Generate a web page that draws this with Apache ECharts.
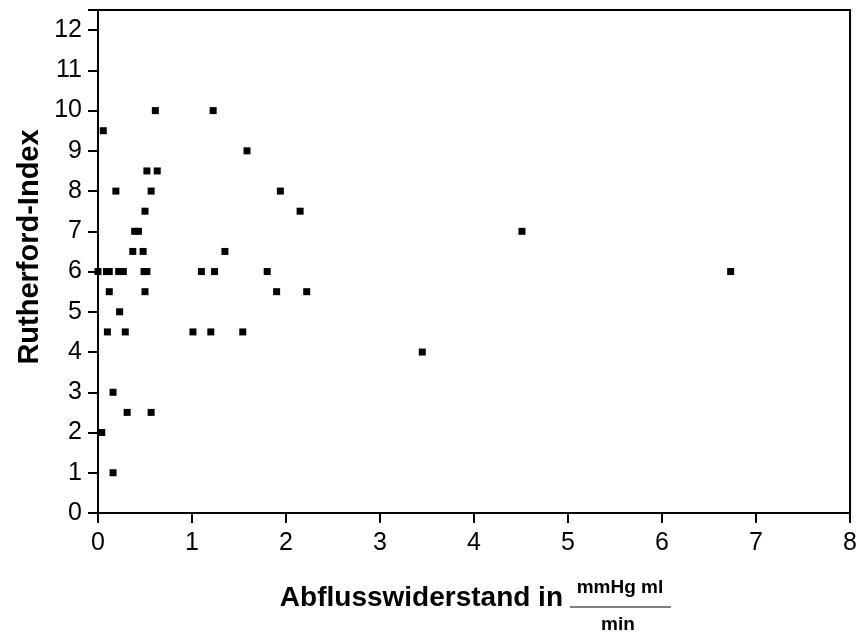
<!DOCTYPE html>
<html>
<head>
<meta charset="utf-8">
<script src="https://cdn.jsdelivr.net/npm/echarts@6/dist/echarts.min.js"></script>
<style>
html,body{margin:0;padding:0;background:#fff;}
#chart{width:860px;height:632px;}
</style>
</head>
<body>
<div id="chart"></div>
<script>
// Abflusswiderstand (x) and Rutherford-Index (y)
var xValues = [0.61, 1.225, 0.056, 1.585, 0.52, 0.63, 0.19, 0.565, 1.94, 0.50, 2.15, 0.39, 0.43, 4.51, 0.37, 0.48, 1.35,
  0.0, 0.09, 0.12, 0.22, 0.27, 0.49, 0.52, 1.10, 1.24, 1.80, 6.73,
  0.12, 0.50, 1.90, 2.22,
  0.23,
  0.10, 0.29, 1.01, 1.20, 1.54,
  3.45,
  0.16,
  0.31, 0.565,
  0.04,
  0.16];
var yValues = [10, 10, 9.5, 9, 8.5, 8.5, 8, 8, 8, 7.5, 7.5, 7, 7, 7, 6.5, 6.5, 6.5,
  6, 6, 6, 6, 6, 6, 6, 6, 6, 6, 6,
  5.5, 5.5, 5.5, 5.5,
  5,
  4.5, 4.5, 4.5, 4.5, 4.5,
  4,
  3,
  2.5, 2.5,
  2,
  1];
var xTicks = [0, 1, 2, 3, 4, 5, 6, 7, 8];
var yTicks = [0, 1, 2, 3, 4, 5, 6, 7, 8, 9, 10, 11, 12];
var yTitle = 'Rutherford-Index';
var xTitle = 'Abflusswiderstand in';
var unitNumerator = 'mmHg ml';
var unitDenominator = 'min';

var points = xValues.map(function (x, i) { return [x, yValues[i]]; });
var FONT = '"Liberation Sans", Arial, sans-serif';

var chart = echarts.init(document.getElementById('chart'));
chart.setOption({
  backgroundColor: '#ffffff',
  animation: false,
  grid: {
    left: 98, right: 7, top: 10, bottom: 119,
    show: true, borderColor: '#000', borderWidth: 2, backgroundColor: 'transparent'
  },
  xAxis: {
    type: 'value', min: xTicks[0], max: xTicks[xTicks.length - 1], interval: 1,
    axisLine: { show: true, lineStyle: { color: '#000', width: 2 } },
    axisTick: { show: true, length: 10, lineStyle: { color: '#000', width: 2 } },
    axisLabel: { color: '#000', fontSize: 25, fontFamily: FONT, margin: 18 },
    splitLine: { show: false }
  },
  yAxis: {
    type: 'value', min: yTicks[0], max: 12.5, interval: 1,
    axisLine: { show: true, lineStyle: { color: '#000', width: 2 } },
    axisTick: { show: true, length: 10, lineStyle: { color: '#000', width: 2 } },
    axisLabel: {
      color: '#000', fontSize: 25, fontFamily: FONT, margin: 16,
      formatter: function (v) { return yTicks.indexOf(v) >= 0 ? String(v) : ''; }
    },
    splitLine: { show: false }
  },
  series: [{
    type: 'scatter',
    data: points,
    symbol: 'rect',
    symbolSize: 7,
    itemStyle: { color: '#000', opacity: 1 }
  }],
  graphic: [
    {
      type: 'text', x: 30, y: 247, rotation: Math.PI / 2,
      style: { text: yTitle, font: 'bold 29px ' + FONT, fill: '#000', align: 'center', verticalAlign: 'middle' }
    },
    {
      type: 'text', x: 563, y: 598,
      style: { text: xTitle, font: 'bold 28px ' + FONT, fill: '#000', align: 'right', verticalAlign: 'middle' }
    },
    {
      type: 'text', x: 620, y: 588,
      style: { text: unitNumerator, font: 'bold 19px ' + FONT, fill: '#000', align: 'center', verticalAlign: 'middle' }
    },
    {
      type: 'line', shape: { x1: 570, y1: 607, x2: 671, y2: 607 },
      style: { stroke: '#000', lineWidth: 1 }
    },
    {
      type: 'text', x: 618, y: 625,
      style: { text: unitDenominator, font: 'bold 19px ' + FONT, fill: '#000', align: 'center', verticalAlign: 'middle' }
    }
  ]
});
</script>
</body>
</html>
